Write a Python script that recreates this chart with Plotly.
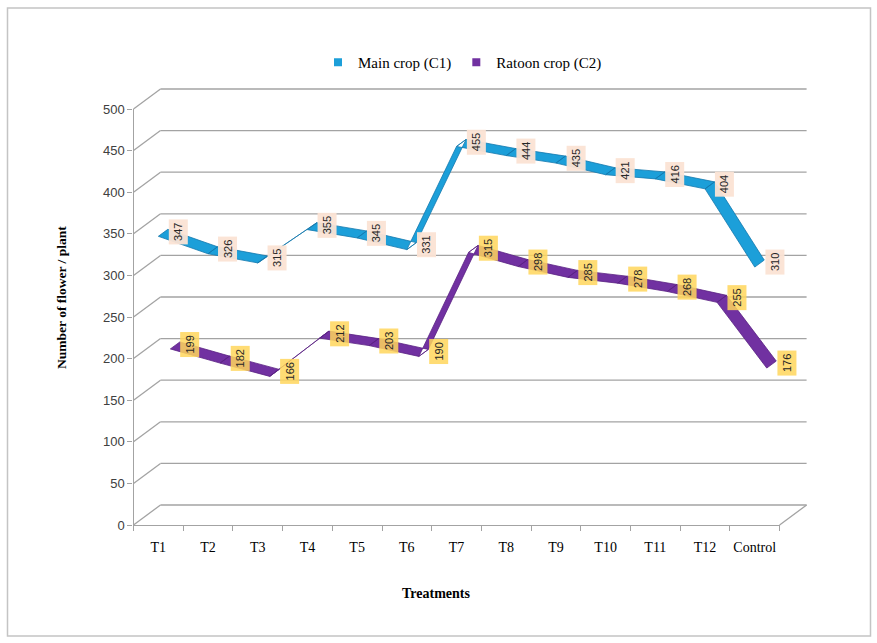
import plotly.graph_objects as go

# ---------------- data ----------------
categories = ["T1", "T2", "T3", "T4", "T5", "T6", "T7", "T8", "T9", "T10", "T11", "T12", "Control"]
main_crop = [347, 326, 315, 355, 345, 331, 455, 444, 435, 421, 416, 404, 310]
ratoon_crop = [199, 182, 166, 212, 203, 190, 315, 298, 285, 278, 268, 255, 176]
y_ticks = list(range(0, 501, 50))

# ---------------- geometry / style ----------------
W, H = 877, 643
FX0, FX1 = 133.5, 779.6          # front plane x extent (px)
FY0, FY500 = 525, 109            # front plane y for 0 and 500 (px)
DX, DY = 27, -20                 # 3D depth offset to back wall (px)
PPX = (FX1 - FX0) / len(categories)
PPY = (FY0 - FY500) / 500.0

GRID = "#a3a3a3"
BLUE, BLUE_EDGE = "#1c9fd9", "#1479ad"
PURPLE, PURPLE_EDGE = "#7131a1", "#5a2283"
SERIF = "Liberation Serif, Times New Roman, serif"


def px(x, y):
    return x / W, 1 - y / H


def off(dx_px, dy_px):
    return dx_px / PPX, -dy_px / PPY


def ribbon(values, start, depth):
    sx, sy = off(*start)
    ex, ey = off(start[0] + depth[0], start[1] + depth[1])
    xs, ys = [], []
    for i in range(len(values) - 1):
        a, b = values[i], values[i + 1]
        xs += [i + sx, i + 1 + sx, i + 1 + ex, i + ex, i + sx, None]
        ys += [a + sy, b + sy, b + ey, a + ey, a + sy, None]
    return xs, ys


fig = go.Figure()

# invisible trace to register categories on the category axis
fig.add_trace(go.Scatter(x=categories, y=main_crop, mode="markers",
                         marker=dict(size=1, opacity=0), hoverinfo="skip",
                         showlegend=False, xaxis="x", yaxis="y"))

series = [
    ("Main crop (C1)", main_crop, BLUE, BLUE_EDGE, (0, 0), "rgba(251,227,212,0.95)"),
    ("Ratoon crop (C2)", ratoon_crop, PURPLE, PURPLE_EDGE, (12, -10.5), "rgba(255,214,92,0.85)"),
]
DEPTH = (9.5, -7)

annotations = []
for name, vals, col, edge, start, lab_bg in series:
    xs, ys = ribbon(vals, start, DEPTH)
    fig.add_trace(go.Scatter(x=xs, y=ys, mode="lines", fill="toself",
                             fillcolor=col, line=dict(color=edge, width=0.8),
                             hoverinfo="skip", showlegend=False,
                             xaxis="x2", yaxis="y"))
    # legend entry
    fig.add_trace(go.Scatter(x=[None], y=[None], mode="markers", name=name,
                             marker=dict(symbol="square", size=8, color=col),
                             xaxis="x2", yaxis="y"))
    shift_x = start[0] + DEPTH[0] / 2 + 15
    shift_y = -(start[1] + DEPTH[1] / 2 - 1)
    for i, v in enumerate(vals):
        annotations.append(dict(x=i, y=v, xref="x2", yref="y",
                                xshift=shift_x, yshift=shift_y,
                                text=str(v), textangle=-90, showarrow=False,
                                xanchor="center", yanchor="middle",
                                font=dict(family="Liberation Sans", size=11, color="#262626"),
                                bgcolor=lab_bg, borderpad=3))

# axis titles
tx, ty = px(62, 297)
annotations.append(dict(x=tx, y=ty, xref="paper", yref="paper", showarrow=False,
                        xanchor="center", yanchor="middle",
                        text="<b>Number of flower / plant</b>", textangle=-90,
                        font=dict(family=SERIF, size=13.5, color="black")))
tx, ty = px(436, 593)
annotations.append(dict(x=tx, y=ty, xref="paper", yref="paper", showarrow=False,
                        xanchor="center", yanchor="middle",
                        text="<b>Treatments</b>",
                        font=dict(family=SERIF, size=14, color="black")))

# 3D frame: back wall gridlines, side wall diagonals, floor edge, outer border
shapes = []
for v in y_ticks:
    yf = FY0 - v * PPY
    x0, y0 = px(FX0 + DX, yf + DY)
    x1, y1 = px(FX1 + DX, yf + DY)
    shapes.append(dict(type="line", xref="paper", yref="paper", x0=x0, y0=y0, x1=x1, y1=y1,
                       line=dict(color=GRID, width=1.3), layer="below"))
    x0, y0 = px(FX0, yf)
    x1, y1 = px(FX0 + DX, yf + DY)
    shapes.append(dict(type="line", xref="paper", yref="paper", x0=x0, y0=y0, x1=x1, y1=y1,
                       line=dict(color=GRID, width=1.3), layer="below"))
x0, y0 = px(FX1, FY0)
x1, y1 = px(FX1 + DX, FY0 + DY)
shapes.append(dict(type="line", xref="paper", yref="paper", x0=x0, y0=y0, x1=x1, y1=y1,
                   line=dict(color=GRID, width=1.3), layer="below"))
x0, y0 = px(7.5, 8)
x1, y1 = px(870.5, 636)
shapes.append(dict(type="rect", xref="paper", yref="paper", x0=x0, y0=y0, x1=x1, y1=y1,
                   line=dict(color="#c4c4c4", width=1.5), layer="below"))

xd = [FX0 / W, FX1 / W]
yd = [1 - FY0 / H, 1 - FY500 / H]

fig.update_layout(
    width=W, height=H,
    margin=dict(l=0, r=0, t=0, b=0, autoexpand=False),
    paper_bgcolor="white", plot_bgcolor="rgba(0,0,0,0)",
    xaxis=dict(domain=xd, type="category", categoryorder="array", categoryarray=categories,
               range=[-0.5, len(categories) - 0.5], tickson="boundaries", tickangle=0,
               ticks="outside", ticklen=5, tickcolor=GRID, showline=True, linecolor=GRID,
               linewidth=1.3, showgrid=False, zeroline=False, ticklabelstandoff=9,
               automargin=False,
               tickfont=dict(family=SERIF, size=14, color="black")),
    xaxis2=dict(overlaying="x", range=[-0.5, len(categories) - 0.5], visible=False,
                showgrid=False, zeroline=False, automargin=False),
    yaxis=dict(domain=yd, range=[0, 500], tickvals=y_ticks, ticks="outside", ticklen=5,
               tickcolor=GRID, showline=True, linecolor=GRID, linewidth=1.3,
               showgrid=False, zeroline=False, automargin=False,
               tickfont=dict(family="Liberation Sans", size=13, color="#404040")),
    legend=dict(orientation="h", x=318 / W, y=1 - 46 / H, xanchor="left", yanchor="top",
                font=dict(family=SERIF, size=15, color="black"),
                bgcolor="rgba(0,0,0,0)", tracegroupgap=0),
    annotations=annotations,
    shapes=shapes,
    showlegend=True,
)

fig.write_html("out.html")
